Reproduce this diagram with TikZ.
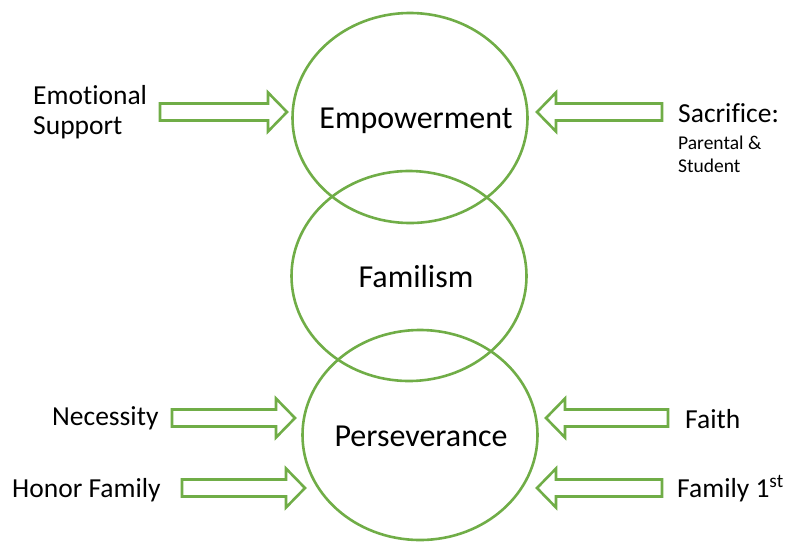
\documentclass[tikz,border=0pt]{standalone}
\usepackage{fontspec}
\setmainfont{Carlito}[Ligatures=NoCommon]
\usetikzlibrary{shapes.geometric}
\definecolor{leaf}{HTML}{70AD47}

\begin{document}
\begin{tikzpicture}[x=1pt, y=-1pt,
	circ/.style={draw=leaf, line width=2.6pt, ellipse, minimum width=235pt, minimum height=210pt, inner sep=0pt},
	blockarr/.pic={\draw[leaf, line width=2.6pt, fill=white] (0,-8.5) -- ({#1-19},-8.5) -- ({#1-19},-19.5)
		-- (#1,0) -- ({#1-19},19.5) -- ({#1-19},8.5) -- (0,8.5) -- cycle;},
	big/.style={font=\fontsize{32}{38}\selectfont, inner sep=0pt},
	lbl/.style={font=\fontsize{27.5}{30}\selectfont, inner sep=0pt},
	small/.style={font=\fontsize{19.5}{23}\selectfont, inner sep=0pt}]
	\useasboundingbox (0,0) rectangle (787,542);
	% the three circles
	\node[circ] (emp) at (410,118) {};
	\node[circ] (fam) at (409,276) {};
	\node[circ] (per) at (420,435) {};
	\node[big, anchor=base] (empt) at (416,128) {Empowerment};
	\node[big, anchor=base] (famt) at (416,287) {Familism};
	\node[big, anchor=base] (pert) at (421,446) {Perseverance};
	% side labels
	\node[lbl, anchor=base west, align=left] (emo) at (33,134) {Emotional\\Support};
	\node[lbl, anchor=base west] (sac) at (678,122) {Sacrifice:};
	\node[small, anchor=base west, align=left] (par) at (678,172) {Parental \&\\Student};
	\node[lbl, anchor=base west] (nec) at (52,425) {Necessity};
	\node[lbl, anchor=base west] (hon) at (12,497) {Honor Family};
	\node[lbl, anchor=base west] (fai) at (685,428) {Faith};
	\node[lbl, anchor=base west] (fa1) at (677,497) {Family 1\textsuperscript{st}};
	% block arrows
	\pic (aemo) at (160,112) {blockarr=127};
	\pic[rotate=180] (asac) at (662,112) {blockarr=125};
	\pic (anec) at (172,418) {blockarr=123};
	\pic (ahon) at (182,488) {blockarr=123};
	\pic[rotate=180] (afai) at (668,418) {blockarr=122};
	\pic[rotate=180] (afa1) at (662,488) {blockarr=125};
\end{tikzpicture}
\end{document}
